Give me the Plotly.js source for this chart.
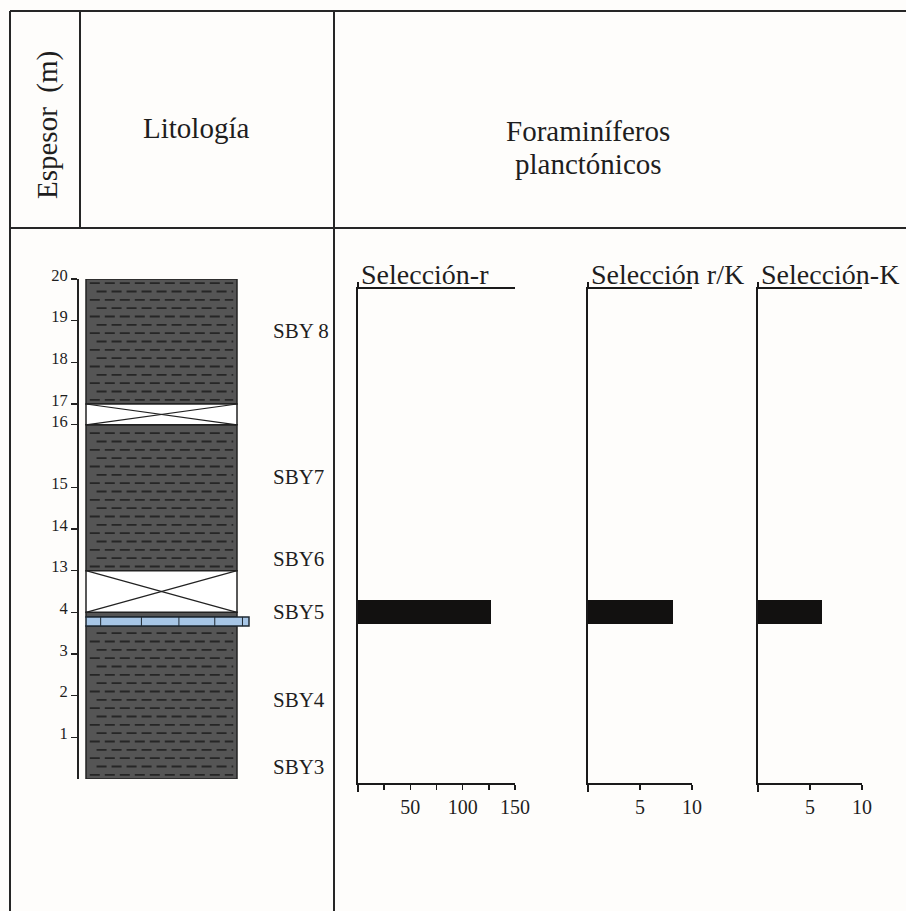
<!DOCTYPE html>
<html><head><meta charset="utf-8">
<script src="https://cdn.plot.ly/plotly-3.0.1.min.js"></script>
<style>html,body{margin:0;padding:0;background:#fefdfb}</style>
</head><body><div id="chart" style="width:906px;height:911px"></div>
<script>
// ---------------- data ----------------
const depthTicks = [1, 2, 3, 4, 13, 14, 15, 16, 17, 18, 19, 20];
// broken depth scale of the drawn column (depth in m -> column units)
const scaleBreakDepth = [0, 4, 13, 15, 16, 17, 20];
const scaleBreakPos   = [0, 4, 5, 7, 8.5, 9, 12];
const unitBase = [0, 3.67, 3.89, 4, 13, 16, 17];
const unitTop  = [3.67, 3.89, 4, 13, 16, 17, 20];
const unitType = ['shale', 'limestone', 'shale', 'covered', 'shale', 'covered', 'shale'];
const samples     = ['SBY3', 'SBY4', 'SBY5', 'SBY6', 'SBY7', 'SBY 8'];
const sampleDepth = [0.3, 1.9, 4.0, 13.28, 15.17, 18.75];
const selR  = [0, 0, 127, 0, 0, 0];
const selRK = [0, 0, 8.2, 0, 0, 0];
const selK  = [0, 0, 6.2, 0, 0, 0];
const panelTitles = ['Selección-r', 'Selección r/K', 'Selección-K'];
const panelMax    = [150, 10, 10];
const panelTicks  = [[50, 100, 150], [5, 10], [5, 10]];
const panelMinor  = [25, 5, 5];
const headerDepth = 'Espesor\u00a0 (m)';
const headerLith  = 'Litología';
const headerForam = ['Foraminíferos', 'planctónicos'];

// ---------------- layout helpers ----------------
const W = 906, H = 911;
const px = v => v / W, py = v => 1 - v / H;
const FONT = 'Liberation Serif, Times New Roman, serif';
const INK = '#1e1e1e';
function pos(d) {
  const n = scaleBreakDepth.length;
  for (let i = 1; i < n; i++) {
    if (d <= scaleBreakDepth[i] || i === n - 1) {
      const d0 = scaleBreakDepth[i - 1], d1 = scaleBreakDepth[i];
      const p0 = scaleBreakPos[i - 1], p1 = scaleBreakPos[i];
      return p0 + (d - d0) * (p1 - p0) / (d1 - d0);
    }
  }
}
// column geometry (pixels)
const colL = 86, colR = 237, bedR = 249, axX = 78, colTop = 279, colBot = 779;
const pTop = 289, pBot = 783;
const panelX = [[358, 515], [588, 692], [758, 862]];
const u = (colBot - colTop) / 12;
const pRange = [(colBot - pBot) / u, (colBot - pTop) / u];

const shapes = [];
const frame = (x0, y0, x1, y1) => shapes.push({type: 'line', xref: 'paper', yref: 'paper',
  x0: px(x0), x1: px(x1), y0: py(y0), y1: py(y1), line: {color: '#262626', width: 2}});
frame(10, 11, 10, 911);
frame(10, 11, 906, 11);
frame(10, 228, 906, 228);
frame(80, 11, 80, 228);
frame(334, 11, 334, 911);

const traces = [];
const dashX = [], dashY = [];
unitType.forEach((t, i) => {
  const y0 = pos(unitBase[i]), y1 = pos(unitTop[i]);
  if (t === 'shale') {
    shapes.push({type: 'rect', xref: 'paper', yref: 'y', layer: 'below',
      x0: px(colL), x1: px(colR), y0, y1, fillcolor: '#555555', line: {color: '#222', width: 1.5}});
    const step = 0.2;
    let k = 0;
    for (let y = y0 + step / 2; y < y1 - 0.02; y += step, k++) {
      dashX.push(k % 2 ? 0.07 : 0.025, 0.975, null);
      dashY.push(y, y, null);
    }
  } else if (t === 'covered') {
    shapes.push({type: 'rect', xref: 'paper', yref: 'y', layer: 'above',
      x0: px(colL), x1: px(colR), y0, y1, fillcolor: '#ffffff', line: {color: '#222', width: 1.5}});
    shapes.push({type: 'line', xref: 'paper', yref: 'y', x0: px(colL), x1: px(colR), y0, y1, line: {color: '#222', width: 1.2}});
    shapes.push({type: 'line', xref: 'paper', yref: 'y', x0: px(colL), x1: px(colR), y0: y1, y1: y0, line: {color: '#222', width: 1.2}});
  } else if (t === 'limestone') {
    shapes.push({type: 'rect', xref: 'paper', yref: 'y', layer: 'above',
      x0: px(colL), x1: px(bedR), y0, y1, fillcolor: '#a7c6e6', line: {color: '#1f2a33', width: 1.5}});
    [0.09, 0.34, 0.57, 0.79, 0.96].forEach(f => {
      const xx = colL + f * (bedR - colL);
      shapes.push({type: 'line', xref: 'paper', yref: 'y', x0: px(xx), x1: px(xx), y0, y1,
        line: {color: '#1f2a33', width: 1}});
    });
  }
});
traces.push({type: 'scatter', mode: 'lines', x: dashX, y: dashY, xaxis: 'x', yaxis: 'y',
  line: {color: '#262626', width: 1.8, dash: '10px,5px'}, hoverinfo: 'skip', showlegend: false});

const panelVals = [selR, selRK, selK];
panelVals.forEach((vals, i) => {
  const n = i + 2;
  traces.push({type: 'bar', orientation: 'h', x: vals, y: sampleDepth.map(pos), width: 0.58,
    xaxis: 'x' + n, yaxis: 'y' + n, marker: {color: '#121110', line: {width: 0}},
    showlegend: false, hoverinfo: 'x+y'});
  // small overshoot of the left axis above the top line and below the bottom line
  shapes.push({type: 'line', xref: 'x' + n + ' domain', yref: 'paper', x0: 0, x1: 0,
    y0: py(pTop), y1: py(pTop - 7), line: {color: '#1a1a1a', width: 2}});
  shapes.push({type: 'line', xref: 'x' + n + ' domain', yref: 'paper', x0: 0, x1: 0,
    y0: py(pBot), y1: py(pBot + 9), line: {color: '#1a1a1a', width: 2}});
});

const annotations = [];
const ann = (o) => annotations.push(Object.assign({showarrow: false, font: {family: FONT, size: 29, color: INK}}, o));
ann({text: headerDepth, xref: 'paper', yref: 'paper', x: px(47), y: py(125), textangle: -90, xanchor: 'center', yanchor: 'middle'});
ann({text: headerLith, xref: 'paper', yref: 'paper', x: px(196), y: py(128), xanchor: 'center', yanchor: 'middle'});
ann({text: headerForam[0], xref: 'paper', yref: 'paper', x: px(588), y: py(131), xanchor: 'center', yanchor: 'middle'});
ann({text: headerForam[1], xref: 'paper', yref: 'paper', x: px(588), y: py(164), xanchor: 'center', yanchor: 'middle'});
samples.forEach((s, i) => ann({text: s, xref: 'paper', yref: 'y', x: px(271), y: pos(sampleDepth[i]),
  xanchor: 'left', yanchor: 'middle', font: {family: FONT, size: 21, color: INK}}));
panelTitles.forEach((t, i) => ann({text: t, xref: 'x' + (i + 2) + ' domain', yref: 'y' + (i + 2) + ' domain',
  x: 0, y: 1, xanchor: 'left', yanchor: 'bottom', xshift: 1, yshift: -3, font: {family: FONT, size: 28, color: INK}}));

const layout = {
  width: W, height: H, margin: {l: 0, r: 0, t: 0, b: 0},
  paper_bgcolor: '#fefdfb', plot_bgcolor: 'rgba(0,0,0,0)',
  font: {family: FONT, color: INK},
  showlegend: false, bargap: 0,
  shapes, annotations,
  xaxis: {domain: [px(colL), px(colR)], range: [0, 1], visible: false, fixedrange: true},
  yaxis: {domain: [py(colBot), py(colTop)], range: [0, 12], anchor: 'free', position: px(axX),
    showline: true, linewidth: 2, linecolor: '#222', ticks: 'outside', ticklen: 6, tickwidth: 1.2, tickcolor: '#222',
    tickvals: depthTicks.map(pos), ticktext: depthTicks.map(String), ticklabelshift: -4,
    tickfont: {family: FONT, size: 16.5, color: INK}, showgrid: false, zeroline: false, fixedrange: true}
};
panelX.forEach((xr, i) => {
  const n = i + 2;
  layout['xaxis' + n] = {domain: [px(xr[0]), px(xr[1])], range: [0, panelMax[i]], anchor: 'y' + n,
    showline: true, mirror: true, linewidth: 2, linecolor: '#1a1a1a',
    ticks: 'outside', ticklen: 5, tickwidth: 1.5, tickcolor: '#1a1a1a',
    tickvals: panelTicks[i], ticktext: panelTicks[i].map(String),
    tickfont: {family: FONT, size: 20, color: INK},
    minor: {dtick: panelMinor[i], tick0: 0, ticks: 'outside', ticklen: 5, tickwidth: 1.5, tickcolor: '#1a1a1a', showgrid: false},
    showgrid: false, zeroline: false, fixedrange: true};
  layout['yaxis' + n] = {domain: [py(pBot), py(pTop)], range: pRange, anchor: 'x' + n,
    showline: true, linewidth: 2, linecolor: '#1a1a1a', showticklabels: false, ticks: '',
    showgrid: false, zeroline: false, fixedrange: true};
});

Plotly.newPlot('chart', traces, layout, {displayModeBar: false, staticPlot: true});
</script></body></html>
